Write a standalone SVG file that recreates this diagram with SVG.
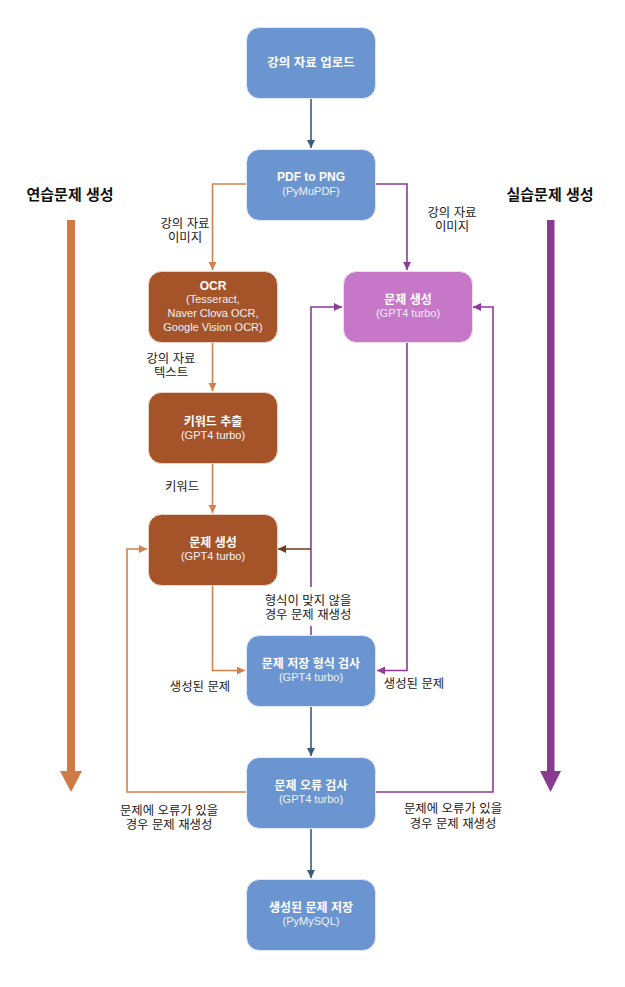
<svg xmlns="http://www.w3.org/2000/svg" width="625" height="987" viewBox="0 0 625 987">
<style>
text{font-family:"Liberation Sans","Noto Sans CJK KR",sans-serif;text-anchor:middle}
.t{font-size:12px;font-weight:bold;fill:#fff}
.t13{font-size:12.5px;font-weight:bold;fill:#fff}
.s{font-size:11px;fill:#eef2fa}
.l{font-size:12.4px;fill:#1a1a1a}
.h{font-size:15px;font-weight:bold;fill:#111}
.blue{fill:#6B95D1;stroke:#dfe8f6;stroke-width:1}
.brown{fill:#A5542A;stroke:#e9d3c6;stroke-width:1}
.pink{fill:#C777C7;stroke:#f0dcf0;stroke-width:1}
.c{fill:none;stroke-width:1.6}
.cb{stroke:#3A5C7E}
.co{stroke:#D4804A}
.cp{stroke:#8E3A9A}
.cd{stroke:#6B3A1F}
</style>
<defs>
<marker id="ab" markerUnits="userSpaceOnUse" markerWidth="9" markerHeight="9" refX="8" refY="4" orient="auto"><path d="M0,0L8,4L0,8z" fill="#3A5C7E"/></marker>
<marker id="ao" markerUnits="userSpaceOnUse" markerWidth="9" markerHeight="9" refX="8" refY="4" orient="auto"><path d="M0,0L8,4L0,8z" fill="#D4804A"/></marker>
<marker id="ap" markerUnits="userSpaceOnUse" markerWidth="9" markerHeight="9" refX="8" refY="4" orient="auto"><path d="M0,0L8,4L0,8z" fill="#8E3A9A"/></marker>
<marker id="ad" markerUnits="userSpaceOnUse" markerWidth="9" markerHeight="9" refX="8" refY="4" orient="auto"><path d="M0,0L8,4L0,8z" fill="#6B3A1F"/></marker>
</defs>

<g id="side-labels">
<text class="h" x="70" y="200">연습문제 생성</text>
<rect x="67" y="220" width="8" height="552" fill="#D07A45"/>
<polygon points="60,771 82,771 71,792" fill="#D07A45"/>
<text class="h" x="550" y="200">실습문제 생성</text>
<rect x="547" y="220" width="7.5" height="552" fill="#8B3A92"/>
<polygon points="540,771 561,771 550.5,792" fill="#8B3A92"/>
</g>

<g id="connectors">
<path class="c cb" d="M311,98V148" marker-end="url(#ab)"/>
<path class="c co" d="M246,184H212.5V270" marker-end="url(#ao)"/>
<path class="c cp" d="M376,184H407V270" marker-end="url(#ap)"/>
<path class="c co" d="M212.5,342V391" marker-end="url(#ao)"/>
<path class="c co" d="M212.5,463V513" marker-end="url(#ao)"/>
<path class="c co" d="M212.5,585V670.5H245" marker-end="url(#ao)"/>
<path class="c cp" d="M407,342V670.5H377" marker-end="url(#ap)"/>
<path class="c cp" d="M311,635V626M311,587V307H342" marker-end="url(#ap)"/>
<path class="c cd" d="M311,549H278" marker-end="url(#ad)"/>
<path class="c cb" d="M311,706V756" marker-end="url(#ab)"/>
<path class="c co" d="M246,792H127V549H147" marker-end="url(#ao)"/>
<path class="c cp" d="M376,792H493V307H473" marker-end="url(#ap)"/>
<path class="c cb" d="M311,828V878" marker-end="url(#ab)"/>
</g>

<g id="edge-labels">
<text class="l" x="185" y="228">강의 자료</text>
<text class="l" x="185" y="242">이미지</text>
<text class="l" x="452" y="217">강의 자료</text>
<text class="l" x="452" y="231">이미지</text>
<text class="l" x="171" y="363">강의 자료</text>
<text class="l" x="171" y="377">텍스트</text>
<text class="l" x="182" y="491">키워드</text>
<text class="l" x="308" y="605">형식이 맞지 않을</text>
<text class="l" x="308" y="619">경우 문제 재생성</text>
<text class="l" x="200" y="691">생성된 문제</text>
<text class="l" x="414" y="688">생성된 문제</text>
<text class="l" x="169" y="815">문제에 오류가 있을</text>
<text class="l" x="169" y="829">경우 문제 재생성</text>
<text class="l" x="453" y="813">문제에 오류가 있을</text>
<text class="l" x="453" y="828">경우 문제 재생성</text>
</g>

<g id="upload">
<rect class="blue" x="246.5" y="27.5" width="129" height="71" rx="13"/>
<text class="t13" x="311" y="67">강의 자료 업로드</text>
</g>
<g id="pdf2png">
<rect class="blue" x="246.5" y="149.5" width="129" height="71" rx="13"/>
<text class="t" x="311" y="181">PDF to PNG</text>
<text class="s" x="311" y="195">(PyMuPDF)</text>
</g>
<g id="ocr">
<rect class="brown" x="148.5" y="271.5" width="129" height="71" rx="13"/>
<text class="t" x="213" y="289.5">OCR</text>
<text class="s" x="213" y="303">(Tesseract,</text>
<text class="s" x="213" y="317">Naver Clova OCR,</text>
<text class="s" x="213" y="331">Google Vision OCR)</text>
</g>
<g id="practice-gen">
<rect class="pink" x="343.5" y="271.5" width="129" height="71" rx="13"/>
<text class="t" x="408" y="304">문제 생성</text>
<text class="s" x="408" y="317">(GPT4 turbo)</text>
</g>
<g id="keyword">
<rect class="brown" x="148.5" y="392.5" width="129" height="71" rx="13"/>
<text class="t" x="213" y="426">키워드 추출</text>
<text class="s" x="213" y="438.5">(GPT4 turbo)</text>
</g>
<g id="exercise-gen">
<rect class="brown" x="148.5" y="514.5" width="129" height="71" rx="13"/>
<text class="t" x="213" y="547">문제 생성</text>
<text class="s" x="213" y="560">(GPT4 turbo)</text>
</g>
<g id="format-check">
<rect class="blue" x="246.5" y="635.5" width="129" height="71" rx="13"/>
<text class="t" x="311" y="668">문제 저장 형식 검사</text>
<text class="s" x="311" y="681">(GPT4 turbo)</text>
</g>
<g id="error-check">
<rect class="blue" x="246.5" y="757.5" width="129" height="71" rx="13"/>
<text class="t" x="311" y="790">문제 오류 검사</text>
<text class="s" x="311" y="803">(GPT4 turbo)</text>
</g>
<g id="save">
<rect class="blue" x="246.5" y="879.5" width="129" height="71" rx="13"/>
<text class="t" x="311" y="912">생성된 문제 저장</text>
<text class="s" x="311" y="925">(PyMySQL)</text>
</g>
</svg>
